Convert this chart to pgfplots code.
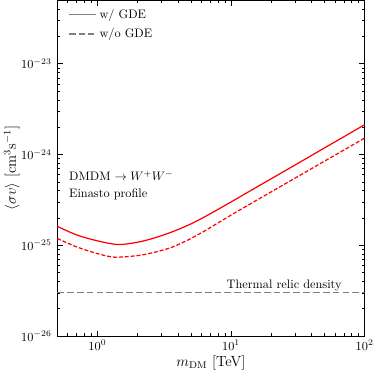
\documentclass[border=0pt]{standalone}
\usepackage{pgfplots}
\pgfplotsset{compat=1.18}

\begin{document}
\begin{tikzpicture}
\begin{loglogaxis}[
    scale only axis,
    width=250pt, height=273pt,
    xmin=0.5, xmax=100,
    ymin=1e-26, ymax=5e-23,
    xlabel={$m_{\rm DM}$ [TeV]},
    ylabel={$\langle\sigma v\rangle$ [cm$^3$s$^{-1}$]},
    label style={font=\large},
    xlabel style={yshift=3pt},
    ylabel style={yshift=-5.5pt},
    yticklabel style={xshift=-1pt},
    xticklabel style={inner xsep=0pt},
    tick align=inside,
    major tick length=4.5pt,
    minor tick length=2.3pt,
    every tick/.style={black, thin},
    legend style={draw=none, fill=none, at={(0.025,0.99)}, anchor=north west,
        font=\normalsize, row sep=3pt},
    legend cell align=left,
    legend image code/.code={\draw[#1] (0pt,0pt) -- (22pt,0pt);},
]

% legend entries
\addlegendimage{gray, line width=1pt}
\addlegendentry{w/ GDE}
\addlegendimage{gray, line width=1pt, dash pattern=on 5pt off 2.5pt}
\addlegendentry{w/o GDE}

% with GDE
\addplot[red, line width=1pt, smooth] coordinates {
    (0.5, 1.62e-25)
    (0.7, 1.30e-25)
    (1.0, 1.12e-25)
    (1.42, 1.02e-25)
    (2.0, 1.08e-25)
    (2.7, 1.21e-25)
    (3.6, 1.40e-25)
    (4.8, 1.67e-25)
    (6.4, 2.07e-25)
    (10, 3.0e-25)
    (15, 4.24e-25)
    (20, 5.41e-25)
    (30, 7.63e-25)
    (50, 1.18e-24)
    (70, 1.57e-24)
    (100, 2.13e-24)
};

% without GDE
\addplot[red, line width=1pt, smooth, dash pattern=on 3.2pt off 1.6pt] coordinates {
    (0.5, 1.19e-25)
    (0.7, 9.6e-26)
    (1.0, 8.1e-26)
    (1.34, 7.4e-26)
    (2.0, 7.7e-26)
    (2.7, 8.4e-26)
    (3.6, 9.5e-26)
    (4.8, 1.15e-25)
    (6.4, 1.45e-25)
    (10, 2.15e-25)
    (20, 3.88e-25)
    (30, 5.47e-25)
    (50, 8.44e-25)
    (70, 1.12e-24)
    (100, 1.52e-24)
};

% thermal relic
\addplot[gray, line width=1pt, dash pattern=on 5.5pt off 2.5pt] coordinates {
    (0.5, 3e-26) (100, 3e-26)
};

\node[anchor=south, inner sep=1.2pt] at (axis cs:25,3e-26) {Thermal relic density};
\node[anchor=west] at (rel axis cs:0.025,0.477) {DMDM $\to W^+W^-$};
\node[anchor=west] at (rel axis cs:0.025,0.423) {Einasto profile};

\end{loglogaxis}
\end{tikzpicture}
\end{document}
